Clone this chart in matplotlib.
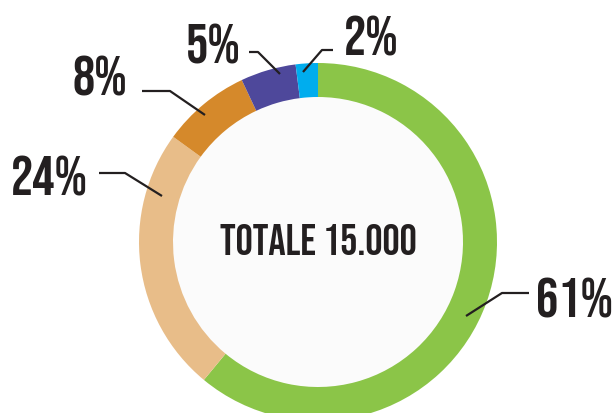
import matplotlib
matplotlib.use("Agg")
import matplotlib.pyplot as plt
from matplotlib import font_manager

# data
shares = [61, 24, 8, 5, 2]
labels = ['61%', '24%', '8%', '5%', '2%']
colors = ['#8bc548', '#e8bd89', '#d5892b', '#4e489b', '#00adee']
total_label = 'TOTALE 15.000'

# label layout (pixel coords, y down): text centre x / baseline y and leader polyline
label_pos = [(575, 317), (49, 195), (100, 95), (213, 63), (371, 55)]
leaders = [
    [(529, 294), (502, 294), (466, 317)],
    [(99, 174), (125, 174), (162, 197)],
    [(142, 92), (170, 92), (205, 116)],
    [(249, 53), (258, 53), (280, 75)],
    [(333, 51), (322, 51), (303, 73)],
]

names = {f.name for f in font_manager.fontManager.ttflist}
fam = ['Bebas Neue'] if 'Bebas Neue' in names else ['Oswald', 'DejaVu Sans']

W, H = 616, 414
fig = plt.figure(figsize=(W / 100, H / 100), dpi=100)
ax = fig.add_axes([0, 0, 1, 1])

cx, cy, r_out, ring = 318, 243, 179, 34
ax.pie(shares, colors=colors, startangle=90, counterclock=False,
       center=(cx, H - cy), radius=r_out,
       wedgeprops=dict(width=ring, linewidth=0))
ax.add_patch(plt.Circle((cx, H - cy), r_out - ring, color='#fbfbfb', zorder=0))

for lab, (tx, ty), pts in zip(labels, label_pos, leaders):
    ax.plot([p[0] for p in pts], [H - p[1] for p in pts], color='#231f20', lw=1.6,
            solid_capstyle='butt')
    ax.text(tx, H - ty, lab, ha='center', va='baseline', fontsize=40,
            family=fam, color='#231f20')

ax.text(cx, H - 255, total_label, ha='center', va='baseline', fontsize=31,
        family=fam, color='#231f20')

ax.set_xlim(0, W)
ax.set_ylim(0, H)
ax.set_aspect('auto')
ax.axis('off')
fig.savefig('out.png', dpi=100, facecolor='white')
